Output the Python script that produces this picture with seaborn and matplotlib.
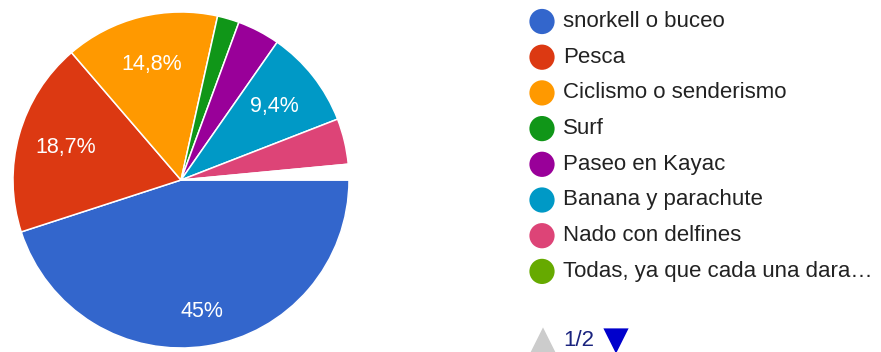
import matplotlib
matplotlib.use("Agg")
import matplotlib.pyplot as plt
import seaborn as sns
import numpy as np

sns.set_theme(style="white")
plt.rcParams["font.family"] = ["Liberation Sans", "DejaVu Sans"]

# Answer shares (%) in legend order; the rest of the answers are on legend page 2
categories = ["snorkell o buceo", "Pesca", "Ciclismo o senderismo", "Surf",
              "Paseo en Kayac", "Banana y parachute", "Nado con delfines",
              "Todas, ya que cada una dara\u2026"]
shares = [45.0, 18.7, 14.8, 2.1, 4.1, 9.4, 4.4]
remaining_share = 1.5  # "Todas..." and the answers listed on page 2
colors = ["#3366cc", "#dc3912", "#ff9900", "#109618",
          "#990099", "#0099c6", "#dd4477", "#66aa00"]
page_label = "1/2"

W, H = 881, 352
fig = plt.figure(figsize=(W / 100, H / 100), dpi=100)
fig.patch.set_facecolor("white")

# Pie axes: centre (181,180) px, radius 168 px
cx, cy, r = 181, 180, 168
ax = fig.add_axes([(cx - r) / W, (H - cy - r) / H, 2 * r / W, 2 * r / H])

values = shares + [remaining_share]
wedge_colors = colors[:len(shares)] + ["white"]
wedges, _ = ax.pie(values, colors=wedge_colors, startangle=0, counterclock=False,
                   radius=1.0, wedgeprops=dict(edgecolor="white", linewidth=1.1))
ax.set_xlim(-1, 1)
ax.set_ylim(-1, 1)
ax.set_aspect("equal")
ax.axis("off")

total = sum(values)
for w, v in zip(wedges[:len(shares)], shares):
    pct = v / total * 100
    if pct < 5:
        continue
    ang = np.deg2rad((w.theta1 + w.theta2) / 2)
    dist = 0.79 if pct > 40 else 0.71
    txt = f"{pct:.1f}".rstrip("0").rstrip(".").replace(".", ",") + "%"
    ax.text(dist * np.cos(ang), dist * np.sin(ang), txt, color="white",
            fontsize=15.5, ha="center", va="center")

# Legend panel in pixel coordinates
lax = fig.add_axes([0, 0, 1, 1])
lax.set_xlim(0, W)
lax.set_ylim(H, 0)
lax.axis("off")
x_dot, x_txt, y0, step = 542, 563, 21.5, 35.7
for i, (name, col) in enumerate(zip(categories, colors)):
    y = y0 + i * step
    lax.scatter([x_dot], [y], s=330, color=col, edgecolors="none")
    lax.text(x_txt, y, name, fontsize=16, color="#222222", ha="left", va="center")

yn = 340
lax.scatter([543], [yn], marker="^", s=330, color="#cccccc", edgecolors="none")
lax.text(563, yn, page_label, fontsize=16, color="#1a237e", ha="left", va="center")
lax.scatter([616], [yn + 1], marker="v", s=330, color="#0000cc", edgecolors="none")

fig.savefig("out.png", dpi=100, facecolor="white")
